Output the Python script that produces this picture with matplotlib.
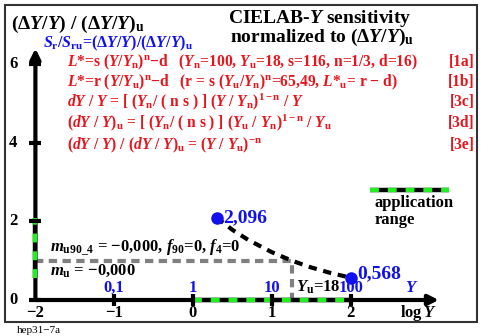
import matplotlib
matplotlib.use('agg')
import matplotlib.pyplot as plt
from matplotlib.patches import Rectangle

# data
log_y_ticks = [-2, -1, 0, 1, 2]
log_y_tick_labels = ['\u22122', '\u22121', '0', '1', '2']
y_ticks = [0, 2, 4, 6]
y_linear_pos = [-1, 0, 1, 2]
y_linear_labels = ['0,1', '1', '10', '100']

curve_logY = [0.3, 0.5, 0.7, 1.0, 1.255, 1.5, 1.75, 2.0]
curve_ratio = [2.096, 1.785, 1.53, 1.217, 1.0, 0.828, 0.685, 0.568]
end_logY = [0.3, 2.0]
end_ratio = [2.096, 0.568]
end_labels = ['2,096', '0,568']

log_Yu = 1.255
ratio_u = 1.0
app_range_x = [0, 2]
app_range_y = [0.568, 2.096]

W, H = 489, 336
RED = '#e8141c'
BLUE = '#1010f0'
GREEN = '#22ee22'
GRAY = '#808080'

plt.rcParams['font.family'] = ['Liberation Serif', 'DejaVu Serif']
plt.rcParams['font.weight'] = 'bold'
plt.rcParams['mathtext.fontset'] = 'custom'
plt.rcParams['mathtext.rm'] = 'Liberation Serif:bold'
plt.rcParams['mathtext.it'] = 'Liberation Serif:bold:italic'
plt.rcParams['mathtext.bf'] = 'Liberation Serif:bold'

fig = plt.figure(figsize=(W / 100, H / 100), dpi=100)
ax = fig.add_axes([0, 0, 1, 1])
ax.set_xlim(-193 / 78.8, (W - 193) / 78.8)
ax.set_ylim(-(H - 300) / 39.3, 300 / 39.3)
ax.axis('off')


def px(x, y):
    return x / W, 1 - y / H


def ftext(x, y, s, **kw):
    fx, fy = px(x, y)
    kw.setdefault('va', 'baseline')
    fig.text(fx, fy, s, **kw)


# frame
fx, fy = px(5, 322)
fig.patches.append(Rectangle((fx, fy), 472 / W, 317 / H, transform=fig.transFigure,
                             fill=False, lw=1.5, ec='#333333'))

# axes with arrows
ax.annotate('', xy=(3.12, 0), xytext=(-2, 0),
            arrowprops=dict(arrowstyle='-|>', lw=3, color='k', mutation_scale=15,
                            shrinkA=0, shrinkB=0))
ax.annotate('', xy=(-2, 6.4), xytext=(-2, 0),
            arrowprops=dict(arrowstyle='-|>', lw=3, color='k', mutation_scale=15,
                            shrinkA=0, shrinkB=0))

# application range on axes
ax.plot(app_range_x, [0, 0], color='k', lw=3.2, solid_capstyle='butt', zorder=3)
ax.plot(app_range_x, [0, 0], color=GREEN, lw=3.2, dashes=(2, 2), zorder=4)
ax.plot([-2, -2], app_range_y, color='k', lw=3.2, solid_capstyle='butt', zorder=3)
ax.plot([-2, -2], app_range_y, color=GREEN, lw=3.2, dashes=(2, 2), zorder=4)

# ticks
ax.plot([-2] * len(y_ticks), y_ticks, ls='none', marker='_', ms=9, mew=3, color='k', zorder=5)
ax.plot(log_y_ticks[1:], [0] * 4, ls='none', marker='|', ms=9, mew=3, color='k', zorder=5)

for v in y_ticks:
    ax.text(-2.28, v, str(v), ha='center', va='center', fontsize=12)
for v, lab in zip(log_y_ticks, log_y_tick_labels):
    ax.text(v, -0.44, lab, ha='center', va='baseline', fontsize=12)
for v, lab in zip(y_linear_pos, y_linear_labels):
    ax.text(v, 0.2, lab, ha='center', va='baseline', fontsize=12, color=BLUE)

# gray reference lines
ax.plot([-2, log_Yu, log_Yu], [ratio_u, ratio_u, 0], color=GRAY, lw=3, dashes=(2, 1.3), zorder=2)

# curve
ax.plot(curve_logY, curve_ratio, color='k', lw=3, dashes=(2, 1.6), zorder=3)
ax.plot(end_logY, end_ratio, 'o', color=BLUE, ms=8, zorder=6)
ax.text(0.38, 2.096, end_labels[0], color=BLUE, fontsize=14, va='center', ha='left')
ax.text(2.09, 0.568 + 0.1, end_labels[1], color=BLUE, fontsize=14, va='center', ha='left')

# texts
ftext(11, 29, r'(Δ$Y$/$Y$) / (Δ$Y$/$Y$)$_\mathrm{u}$', fontsize=14)
ftext(320, 23, r'CIELAB-$Y$ sensitivity', fontsize=14, ha='center')
ftext(322, 42, r'normalized to (Δ$Y$/$Y$)$_\mathrm{u}$', fontsize=14, ha='center')
ftext(43, 47, r'$S_\mathrm{r}$/$S_\mathrm{ru}$=(Δ$Y$/$Y$)/(Δ$Y$/$Y$)$_\mathrm{u}$',
      fontsize=11.5, color=BLUE)

red_lines = [
    r'$L$*=s ($Y$/$Y_\mathrm{n}$)$^\mathrm{n}$−d   ($Y_\mathrm{n}$=100, $Y_\mathrm{u}$=18, s=116, n=1/3, d=16)',
    r'$L$*=r ($Y$/$Y_\mathrm{u}$)$^\mathrm{n}$−d   (r = s ($Y_\mathrm{u}$/$Y_\mathrm{n}$)$^\mathrm{n}$=65,49, $L$*$_\mathrm{u}$= r − d)',
    r'$dY$ / $Y$ = [ ($Y_\mathrm{n}$/ ( n s ) ] ($Y$ / $Y_\mathrm{n}$)$^\mathrm{1-n}$ / $Y$',
    r'($dY$ / $Y$)$_\mathrm{u}$ = [ ($Y_\mathrm{n}$/ ( n s ) ] ($Y_\mathrm{u}$ / $Y_\mathrm{n}$)$^\mathrm{1-n}$ / $Y_\mathrm{u}$',
    r'($dY$ / $Y$) / ($dY$ / $Y$)$_\mathrm{u}$ = ($Y$ / $Y_\mathrm{u}$)$^{-\mathrm{n}}$',
]
red_tags = ['[1a]', '[1b]', '[3c]', '[3d]', '[3e]']
red_base = [66, 86, 106, 127, 149]
for s, tag, b in zip(red_lines, red_tags, red_base):
    ftext(67, b, s, fontsize=11.2, color=RED)
    ftext(475, b, tag, fontsize=11.2, color=RED, ha='right')

ftext(50, 252, r'$m_\mathrm{u90\_4}$ = −0,000, $f_\mathrm{90}$=0, $f_\mathrm{4}$=0', fontsize=12)
ftext(50, 275, r'$m_\mathrm{u}$ = −0,000', fontsize=12)
ftext(296, 292, r'$Y_\mathrm{u}$=18', fontsize=12)
ftext(412, 292, r'$Y$', fontsize=12, color=BLUE, ha='center')
ftext(437, 317, r'log$\,Y$', fontsize=12, ha='right')

# application range legend
ax.plot([2.25, 3.25], [2.8, 2.8], color='k', lw=3.2, solid_capstyle='butt')
ax.plot([2.25, 3.25], [2.8, 2.8], color=GREEN, lw=3.2, dashes=(2, 2))
ftext(375, 207, 'application', fontsize=12)
ftext(375, 224, 'range', fontsize=12)

ftext(17, 333, 'hep31−7a', fontsize=8, fontweight='normal')

fig.savefig('out.png', dpi=100)
